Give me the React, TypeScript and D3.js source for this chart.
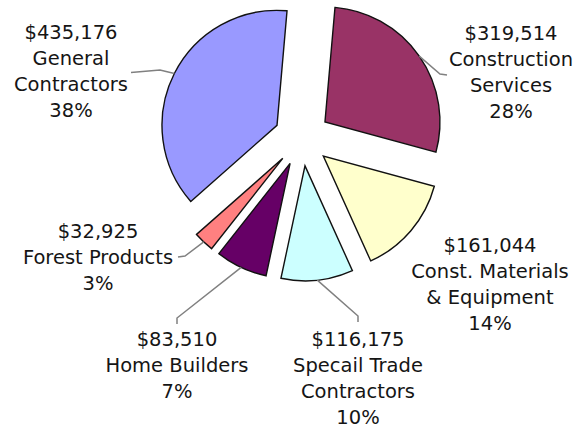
import React from "react";
import * as d3 from "d3";

// ---- data ----
const categories = [
  "Construction Services",
  "Const. Materials & Equipment",
  "Specail Trade Contractors",
  "Home Builders",
  "Forest Products",
  "General Contractors",
];
const nameLines = [
  ["Construction", "Services"],
  ["Const. Materials", "& Equipment"],
  ["Specail Trade", "Contractors"],
  ["Home Builders"],
  ["Forest Products"],
  ["General", "Contractors"],
];
const values = [319514, 161044, 116175, 83510, 32925, 435176];
const percentLabels = ["28%", "14%", "10%", "7%", "3%", "38%"];
const colors = ["#993366", "#ffffcc", "#ccffff", "#660066", "#ff8080", "#9999ff"];

// ---- layout ----
const W = 574;
const H = 428;
const cx = 302;
const cy = 138;
const R = 115;
const explode = 28;
const startOffset = (5 * Math.PI) / 180;
const lineH = 26;

// label block anchors: center x, first baseline y
const labelPos: [number, number][] = [
  [511, 40],
  [490, 252],
  [358, 346],
  [177, 346],
  [98, 238],
  [71, 39],
];
// leader line tail points (after the point on the slice edge)
const leaderTails: ([number, number][] | null)[] = [
  [[440, 74], [447, 75]],
  null,
  [[358, 316], [358, 322]],
  [[177, 318], [177, 324]],
  [[185, 256], [178, 257]],
  [[160, 70], [131, 72.5]],
];

const fmt = d3.format("$,");

export default function App() {
  const pie = d3
    .pie<number>()
    .sort(null)
    .startAngle(startOffset)
    .endAngle(startOffset + 2 * Math.PI);
  const arcs = pie(values);
  const arcGen = d3.arc<d3.PieArcDatum<number>>().innerRadius(0).outerRadius(R);

  return (
    <svg
      width={W}
      height={H}
      style={{ position: "absolute", left: 0, top: 0, background: "#fff" }}
      fontFamily="'DejaVu Sans', sans-serif"
    >
      {arcs.map((a, i) => {
        const mid = (a.startAngle + a.endAngle) / 2;
        const dx = explode * Math.sin(mid);
        const dy = -explode * Math.cos(mid);
        return (
          <path
            key={categories[i]}
            d={arcGen(a) || ""}
            transform={`translate(${cx + dx},${cy + dy})`}
            fill={colors[i]}
            stroke="#111"
            strokeWidth={1.4}
            strokeLinejoin="miter"
          />
        );
      })}
      {arcs.map((a, i) => {
        const tail = leaderTails[i];
        if (!tail) return null;
        const mid = (a.startAngle + a.endAngle) / 2;
        const sx = cx + (explode + R) * Math.sin(mid);
        const sy = cy - (explode + R) * Math.cos(mid);
        const pts: [number, number][] = [[sx, sy], ...tail];
        return (
          <path
            key={"l" + i}
            d={d3.line()(pts) || ""}
            fill="none"
            stroke="#808080"
            strokeWidth={1.5}
          />
        );
      })}
      {values.map((v, i) => {
        const lines = [fmt(v), ...nameLines[i], percentLabels[i]];
        const [x, y] = labelPos[i];
        return (
          <text
            key={"t" + i}
            textAnchor="middle"
            fontSize={19.5}
            fill="#151515"
          >
            {lines.map((s, j) => (
              <tspan key={j} x={x} y={y + j * lineH}>
                {s}
              </tspan>
            ))}
          </text>
        );
      })}
    </svg>
  );
}
